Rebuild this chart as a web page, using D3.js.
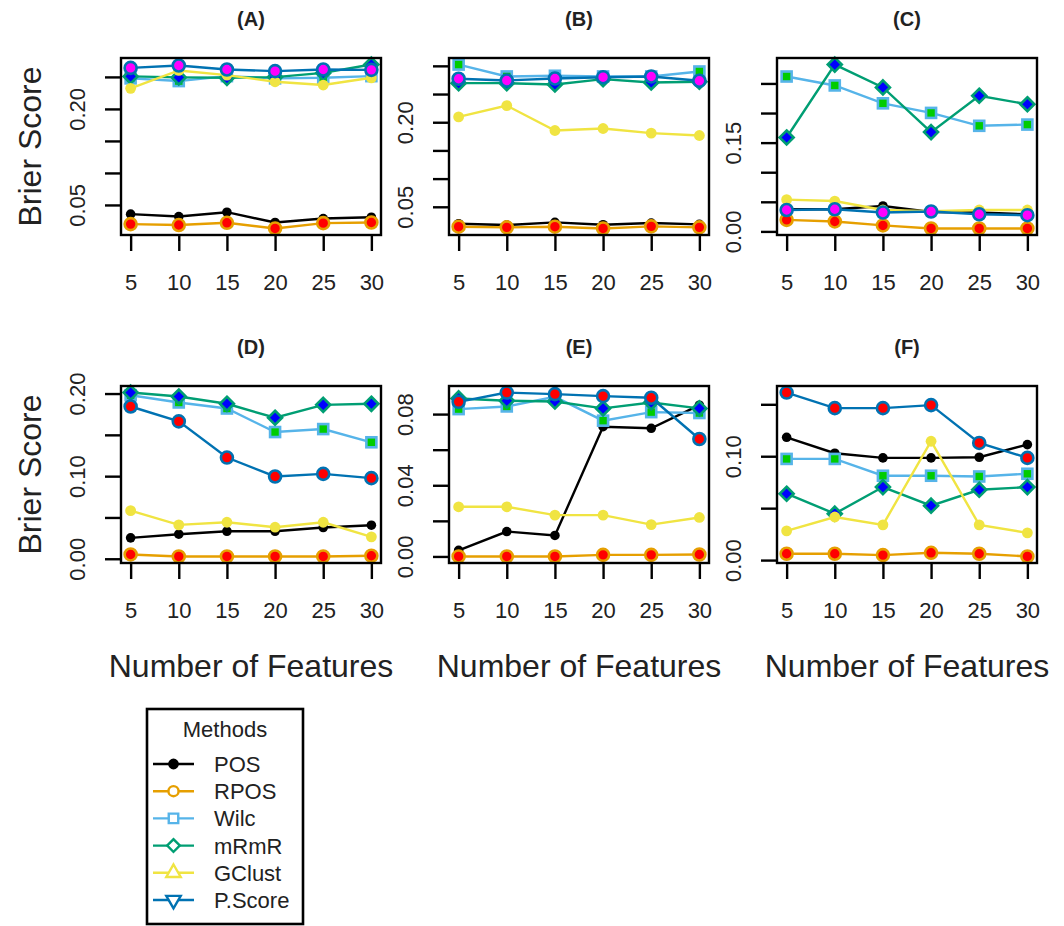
<!DOCTYPE html>
<html>
<head>
<meta charset="utf-8">
<script src="https://cdn.jsdelivr.net/npm/d3@7"></script>
<style>
  body { margin: 0; background: #fff; }
  svg { display: block; font-family: "Liberation Sans", Arial, Helvetica, sans-serif; }
</style>
</head>
<body>
<div id="chart"></div>
<script>
const features = [5, 10, 15, 20, 25, 30];
const methods = ["POS", "RPOS", "Wilc", "mRmR", "GClust", "P.Score"];
const panelTitles = ["(A)", "(B)", "(C)", "(D)", "(E)", "(F)"];

// one row per method, same order as `methods`
const panelA = [
  [0.0356, 0.0319, 0.0387, 0.0226, 0.0288, 0.0309],
  [0.0201, 0.0186, 0.0221, 0.0133, 0.0216, 0.0226],
  [0.2477, 0.2435, 0.2512, 0.2477, 0.2486, 0.2512],
  [0.2508, 0.2492, 0.2486, 0.2497, 0.2563, 0.2693],
  [0.2322, 0.2601, 0.2528, 0.2424, 0.2373, 0.2486],
  [0.2641, 0.2678, 0.2616, 0.2590, 0.2616, 0.2610]
];
const panelB = [
  [0.0200, 0.0177, 0.0223, 0.0182, 0.0212, 0.0188],
  [0.0147, 0.0135, 0.0147, 0.0116, 0.0153, 0.0135],
  [0.3023, 0.2812, 0.2824, 0.2812, 0.2812, 0.2900],
  [0.2693, 0.2693, 0.2670, 0.2764, 0.2706, 0.2718],
  [0.2094, 0.2295, 0.1853, 0.1889, 0.1806, 0.1765],
  [0.2771, 0.2741, 0.2776, 0.2799, 0.2812, 0.2736]
];
const panelC = [
  [0.0374, 0.0374, 0.0430, 0.0329, 0.0319, 0.0290],
  [0.0195, 0.0168, 0.0101, 0.0050, 0.0050, 0.0050],
  [0.2617, 0.2466, 0.2164, 0.2002, 0.1784, 0.1805],
  [0.1587, 0.2819, 0.2433, 0.1678, 0.2292, 0.2148],
  [0.0537, 0.0513, 0.0362, 0.0341, 0.0362, 0.0362],
  [0.0362, 0.0374, 0.0319, 0.0336, 0.0290, 0.0274]
];
const panelD = [
  [0.0253, 0.0297, 0.0333, 0.0333, 0.0378, 0.0406],
  [0.0052, 0.0028, 0.0028, 0.0028, 0.0028, 0.0036],
  [0.1980, 0.1892, 0.1819, 0.1534, 0.1570, 0.1410],
  [0.2012, 0.1964, 0.1876, 0.1707, 0.1863, 0.1876],
  [0.0582, 0.0410, 0.0442, 0.0382, 0.0442, 0.0265],
  [0.1843, 0.1663, 0.1225, 0.0996, 0.1028, 0.0976]
];
const panelE = [
  [0.0034, 0.0140, 0.0118, 0.0729, 0.0720, 0.0850],
  [0.0000, 0.0000, 0.0000, 0.0009, 0.0009, 0.0011],
  [0.0828, 0.0843, 0.0897, 0.0763, 0.0811, 0.0806],
  [0.0888, 0.0875, 0.0871, 0.0832, 0.0865, 0.0832],
  [0.0279, 0.0279, 0.0232, 0.0232, 0.0179, 0.0219],
  [0.0869, 0.0921, 0.0912, 0.0901, 0.0892, 0.0660]
];
const panelF = [
  [0.1182, 0.1029, 0.0984, 0.0984, 0.0990, 0.1112],
  [0.0061, 0.0061, 0.0048, 0.0070, 0.0061, 0.0035],
  [0.0974, 0.0974, 0.0812, 0.0812, 0.0805, 0.0831],
  [0.0639, 0.0447, 0.0703, 0.0524, 0.0677, 0.0703],
  [0.0281, 0.0415, 0.0339, 0.1144, 0.0339, 0.0262],
  [0.1613, 0.1463, 0.1463, 0.1492, 0.1128, 0.0984]
];
const panels = [panelA, panelB, panelC, panelD, panelE, panelF];

// y ticks per panel, and the ones that get a label
const yTicks = [
  [0.05, 0.10, 0.15, 0.20, 0.25],
  [0.05, 0.10, 0.15, 0.20, 0.25, 0.30],
  [0.00, 0.05, 0.10, 0.15, 0.20, 0.25],
  [0.00, 0.05, 0.10, 0.15, 0.20],
  [0.00, 0.02, 0.04, 0.06, 0.08],
  [0.00, 0.05, 0.10, 0.15]
];
const yTickLabels = [
  ["0.05", "0.20"],
  ["0.05", "0.20"],
  ["0.00", "0.15"],
  ["0.00", "0.10", "0.20"],
  ["0.00", "0.04", "0.08"],
  ["0.00", "0.10"]
];

const width = 1064;
const height = 926;
const colLeft = [121, 449, 777];
const rowTop = [58, 386];
const boxW = 260;
const boxH = 177;

const lineColor = ["#000000", "#E69F00", "#56B4E9", "#009E73", "#F0E442", "#0072B2"];

const svg = d3.select("#chart")
  .append("svg")
  .attr("width", width)
  .attr("height", height)
  .attr("viewBox", [0, 0, width, height]);

svg.append("rect").attr("width", width).attr("height", height).attr("fill", "#fff");

const fmt = d3.format(".2f");

function drawMarker(sel, m, fillP) {
  // m = method index
  if (m === 0) {
    sel.append("circle").attr("r", 4.8).attr("fill", "#000");
  } else if (m === 1) {
    sel.append("circle").attr("r", 6).attr("fill", "#FF0000")
      .attr("stroke", lineColor[1]).attr("stroke-width", 2.6);
  } else if (m === 2) {
    sel.append("rect").attr("x", -5).attr("y", -5).attr("width", 10).attr("height", 10)
      .attr("fill", "#00CC00").attr("stroke", lineColor[2]).attr("stroke-width", 2.6);
  } else if (m === 3) {
    sel.append("path").attr("d", "M0,-7L7,0L0,7L-7,0Z")
      .attr("fill", "#0000FF").attr("stroke", lineColor[3]).attr("stroke-width", 2.6);
  } else if (m === 4) {
    sel.append("circle").attr("r", 5.4).attr("fill", lineColor[4]);
  } else {
    sel.append("circle").attr("r", 6).attr("fill", fillP)
      .attr("stroke", lineColor[5]).attr("stroke-width", 2.6);
  }
}

panels.forEach((series, p) => {
  const col = p % 3;
  const row = Math.floor(p / 3);
  const left = colLeft[col];
  const top = rowTop[row];

  // R style limits: data range padded by 4%
  const xExt = d3.extent(features);
  const xPad = (xExt[1] - xExt[0]) * 0.04;
  const x = d3.scaleLinear()
    .domain([xExt[0] - xPad, xExt[1] + xPad])
    .range([left, left + boxW]);

  const yExt = d3.extent(series.flat());
  const yPad = (yExt[1] - yExt[0]) * 0.04;
  const y = d3.scaleLinear()
    .domain([yExt[0] - yPad, yExt[1] + yPad])
    .range([top + boxH, top]);

  const g = svg.append("g");

  // title
  g.append("text")
    .attr("x", left + boxW / 2)
    .attr("y", top - 32)
    .attr("text-anchor", "middle")
    .attr("font-size", 20)
    .attr("font-weight", "bold")
    .attr("fill", "#222")
    .text(panelTitles[p]);

  // series
  const line = d3.line()
    .x((d, i) => x(features[i]))
    .y(d => y(d));

  series.forEach((vals, m) => {
    g.append("path")
      .datum(vals)
      .attr("fill", "none")
      .attr("stroke", lineColor[m])
      .attr("stroke-width", 2.4)
      .attr("d", line);

    g.append("g")
      .selectAll("g")
      .data(vals)
      .join("g")
        .attr("transform", (d, i) => `translate(${x(features[i])},${y(d)})`)
        .each(function () { drawMarker(d3.select(this), m, row === 0 ? "#FF00FF" : "#FF0000"); });
  });

  // axes
  const labelled = yTickLabels[p];
  g.append("g")
    .attr("transform", `translate(${left},0)`)
    .call(d3.axisLeft(y).tickValues(yTicks[p]).tickSize(16)
      .tickFormat(d => labelled.includes(fmt(d)) ? fmt(d) : ""))
    .call(a => a.select(".domain").remove())
    .attr("font-size", null).attr("font-family", null)
    .call(a => a.selectAll(".tick line").attr("stroke", "#000").attr("stroke-width", 2.4))
    .call(a => a.selectAll(".tick text")
      .attr("x", 0).attr("dy", null)
      .attr("transform", "translate(-36,0) rotate(-90)")
      .attr("text-anchor", "middle")
      .attr("font-size", 22)
      .attr("fill", "#222"));

  g.append("g")
    .attr("transform", `translate(0,${top + boxH})`)
    .call(d3.axisBottom(x).tickValues(features).tickSize(16))
    .call(a => a.select(".domain").remove())
    .attr("font-size", null).attr("font-family", null)
    .call(a => a.selectAll(".tick line").attr("stroke", "#000").attr("stroke-width", 2.4))
    .call(a => a.selectAll(".tick text")
      .attr("y", 55).attr("dy", null)
      .attr("font-size", 22)
      .attr("fill", "#222"));

  // box
  g.append("rect")
    .attr("x", left).attr("y", top)
    .attr("width", boxW).attr("height", boxH)
    .attr("fill", "none")
    .attr("stroke", "#000")
    .attr("stroke-width", 2.4);

  if (col === 0) {
    g.append("text")
      .attr("transform", `translate(41,${top + boxH / 2}) rotate(-90)`)
      .attr("text-anchor", "middle")
      .attr("font-size", 32)
      .attr("fill", "#222")
      .text("Brier Score");
  }
  if (row === 1) {
    g.append("text")
      .attr("x", left + boxW / 2)
      .attr("y", 677)
      .attr("text-anchor", "middle")
      .attr("font-size", 32)
      .attr("fill", "#222")
      .text("Number of Features");
  }
});

// legend
const legend = svg.append("g");
legend.append("rect")
  .attr("x", 147).attr("y", 709)
  .attr("width", 156).attr("height", 215)
  .attr("fill", "#fff")
  .attr("stroke", "#000")
  .attr("stroke-width", 2.6);

legend.append("text")
  .attr("x", 225).attr("y", 737)
  .attr("text-anchor", "middle")
  .attr("font-size", 22)
  .attr("fill", "#222")
  .text("Methods");

const legendSymbols = [
  d3.symbol(d3.symbolCircle, 55),
  d3.symbol(d3.symbolCircle, 80),
  d3.symbol(d3.symbolSquare, 90),
  d3.symbol(d3.symbolSquare, 80),
  d3.symbol(d3.symbolTriangle, 90),
  d3.symbol(d3.symbolTriangle, 90)
];
const legendRotate = [0, 0, 0, 45, 0, 180];

const item = legend.selectAll("g.item")
  .data(methods)
  .join("g")
    .attr("class", "item")
    .attr("transform", (d, i) => `translate(0,${764 + i * 27.2})`);

item.append("line")
  .attr("x1", 153).attr("x2", 194)
  .attr("stroke", (d, i) => lineColor[i])
  .attr("stroke-width", 2.4);

item.append("path")
  .attr("transform", (d, i) => `translate(173.5,0) rotate(${legendRotate[i]})`)
  .attr("d", (d, i) => legendSymbols[i]())
  .attr("fill", (d, i) => i === 0 ? "#000" : "#fff")
  .attr("stroke", (d, i) => lineColor[i])
  .attr("stroke-width", 2.4);

item.append("text")
  .attr("x", 214).attr("y", 8)
  .attr("font-size", 22)
  .attr("fill", "#222")
  .text(d => d);
</script>
</body>
</html>
